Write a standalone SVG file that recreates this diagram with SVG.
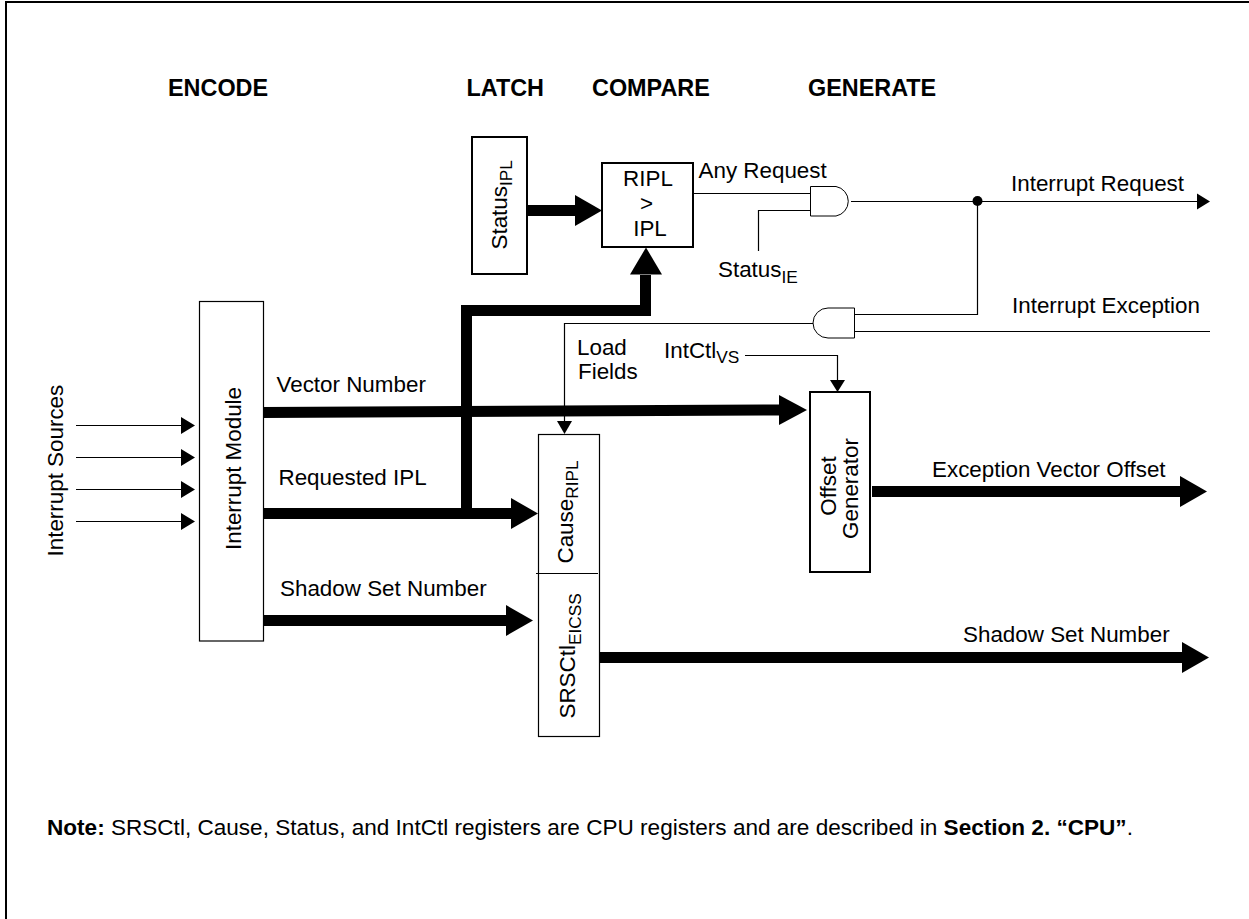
<svg xmlns="http://www.w3.org/2000/svg" width="1249" height="919" viewBox="0 0 1249 919">
<style>
text{font-family:"Liberation Sans",Arial,sans-serif;font-size:22.4px;fill:#000}
.h{font-weight:bold}
.hd{font-weight:bold;font-size:23.4px}
.sub{font-size:17.3px}
.box1{fill:#fff;stroke:#000;stroke-width:1.2}
.box2{fill:#fff;stroke:#000;stroke-width:2}
.thin{fill:none;stroke:#000;stroke-width:1.2}
.gate{fill:#fff;stroke:#000;stroke-width:1}
.thick{fill:none;stroke:#000;stroke-width:11}
</style>
<rect x="0" y="0" width="1249" height="919" fill="#fff"/>
<g id="frame"><path class="box2" style="fill:none" d="M6 919V2H1249"/></g>
<g id="connectors">
<path class="thin" d="M76 425.500H182M76 457.500H182M76 489.500H182M76 521.500H182"/>
<path d="M181 417l14 8.500-14 8.500zM181 449l14 8.500-14 8.500zM181 481l14 8.500-14 8.500zM181 513l14 8.500-14 8.500z"/>
<path class="thick" d="M527 210.500H576"/><path d="M575 195l27 15.500-27 15.500z"/>
<path class="thick" d="M466.500 305V513M461 310.500H645.500V275"/><path d="M646 247.500l16 27h-32z"/>
<path class="thick" d="M263 412.500L780 410"/><path d="M779 395l28 15-28 15z"/>
<path class="thick" d="M263 513.500H512"/><path d="M511 498l27 15.500-27 15.500z"/>
<path class="thick" d="M263 620.500H507"/><path d="M506 605l27 15.500-27 15.500z"/>
<path class="thick" d="M599 657.500H1183"/><path d="M1182 642l27 15.500-27 15.500z"/>
<path class="thick" d="M872 491.500H1181"/><path d="M1180 476l27 15.500-27 15.500z"/>
<path class="thin" d="M693 193.500H811M758.500 251V210.500H811M851 201.500H1198"/>
<path d="M1197 193.500l13 8-13 8z"/>
<circle cx="977.500" cy="201" r="5"/>
<path class="thin" d="M977.500 201V314.500H854M854 331.500H1210M813 323.500H564.500V422"/>
<path d="M557 421h15l-7.500 13z"/>
<path class="thin" d="M745 355.500H837.500V381"/>
<path d="M830 380h15l-7.500 12z"/>
</g>
<g id="status-ipl"><rect class="box2" x="472" y="137" width="55" height="137"/>
<text transform="translate(506.500 249.500) rotate(-90)">Status<tspan class="sub" dy="5">IPL</tspan></text></g>
<g id="compare"><rect class="box2" x="602" y="163" width="91" height="84"/>
<text x="648" y="186" text-anchor="middle">RIPL</text><text x="646.500" y="211" text-anchor="middle">&gt;</text><text x="650" y="236" text-anchor="middle">IPL</text></g>
<g id="and-request"><path class="gate" d="M810.500 186.500H836a15 15 0 0 1 0 29.500H810.500z"/></g>
<g id="and-exception"><path class="gate" d="M854.500 308H828a15 15 0 0 0 0 30H854.500z"/></g>
<g id="interrupt-module"><rect class="box1" x="199.500" y="301.500" width="64" height="339.500"/>
<text transform="translate(240.500 550) rotate(-90)">Interrupt Module</text></g>
<g id="cause-srsctl"><rect class="box1" x="538.500" y="434.500" width="61" height="302"/>
<path class="thin" d="M536 573.500H598"/>
<text transform="translate(572.500 563.500) rotate(-90)">Cause<tspan class="sub" dy="5">RIPL</tspan></text>
<text transform="translate(574.500 718.500) rotate(-90)">SRSCtl<tspan class="sub" dy="6">EICSS</tspan></text></g>
<g id="offset-generator"><rect class="box2" x="810" y="392" width="60" height="180"/>
<text transform="translate(836 486) rotate(-90)" text-anchor="middle">Offset</text>
<text transform="translate(857.500 488.500) rotate(-90)" text-anchor="middle">Generator</text></g>
<g id="labels">
<text class="hd" x="168" y="96">ENCODE</text>
<text class="hd" x="466.500" y="96">LATCH</text>
<text class="hd" x="592" y="96">COMPARE</text>
<text class="hd" x="808" y="96">GENERATE</text>
<text x="698.500" y="178">Any Request</text>
<text x="718" y="276.500">Status<tspan class="sub" dy="6">IE</tspan></text>
<text x="1011" y="191">Interrupt Request</text>
<text x="1012" y="313">Interrupt Exception</text>
<text x="577" y="355">Load</text><text x="578" y="379">Fields</text>
<text x="664" y="358">IntCtl<tspan class="sub" dy="5">VS</tspan></text>
<text transform="translate(62.500 556.500) rotate(-90)">Interrupt Sources</text>
<text x="276.500" y="392">Vector Number</text>
<text x="278.500" y="485">Requested IPL</text>
<text x="280" y="596">Shadow Set Number</text>
<text x="932" y="477">Exception Vector Offset</text>
<text x="963" y="642">Shadow Set Number</text>
<text x="47" y="835" style="font-size:22.570px"><tspan class="h">Note:</tspan> SRSCtl, Cause, Status, and IntCtl registers are CPU registers and are described in <tspan class="h">Section 2. “CPU”</tspan>.</text>
</g>
</svg>
